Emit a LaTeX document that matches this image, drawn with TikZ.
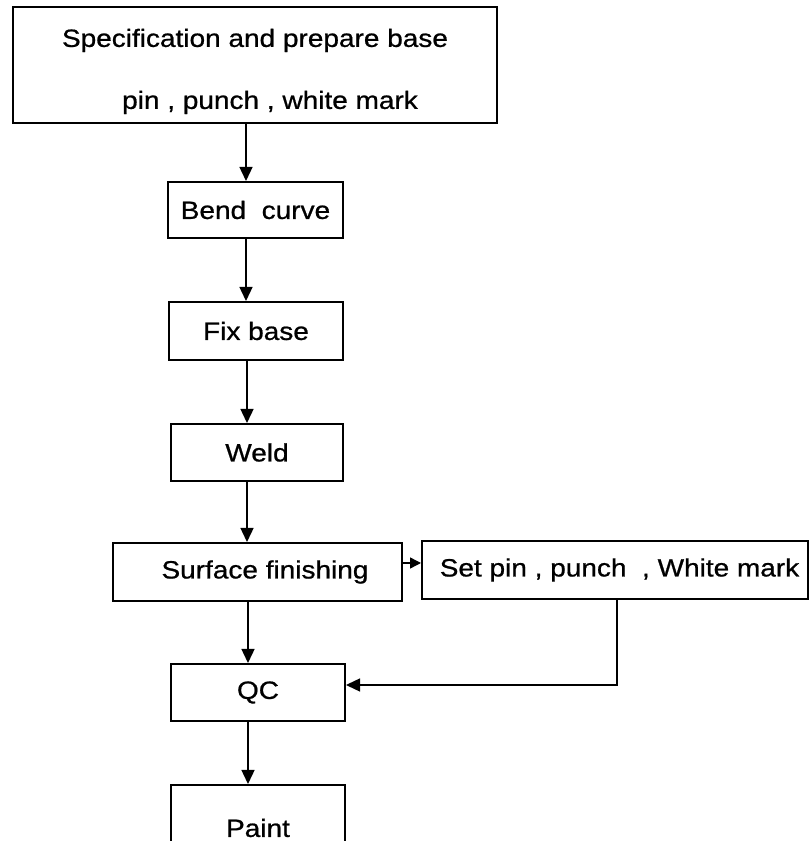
\documentclass[tikz,border=0pt]{standalone}
\usepackage{fontspec}
\setmainfont[FakeStretch=1.12,FakeBold=0.8]{Liberation Sans}
\usetikzlibrary{arrows.meta}
\begin{document}
\begin{tikzpicture}[x=1pt,y=1pt,
  box/.style={draw, line width=2pt, inner sep=0pt, font=\fontsize{25}{62}\selectfont},
  arr/.style={line width=1.4pt, -{Triangle[length=14pt,width=13pt]}},
  sarr/.style={line width=1.4pt, -{Triangle[length=11pt,width=11pt]}}
]
\useasboundingbox (0,0) rectangle (811,841);
\clip (0,0) rectangle (811,841);
\node[box, minimum width=484, minimum height=116, align=center] (spec) at (255,776)
  {\rule{0pt}{31pt}Specification and prepare base\\\hspace*{30pt}pin , punch , white mark};
\node[box, minimum width=175, minimum height=56] (bend) at (255.5,631) {Bend\ \ curve};
\node[box, minimum width=174, minimum height=58] (fix) at (256,510) {Fix base};
\node[box, minimum width=172, minimum height=57] (weld) at (257,388.5) {Weld};
\node[box, minimum width=289, minimum height=58] (surf) at (257.5,269) {\hspace*{15pt}Surface finishing};
\node[box, minimum width=386, minimum height=58] (setpin) at (615,271) {\hspace*{9pt}Set pin , punch\ \ , White mark};
\node[box, minimum width=174, minimum height=57] (qc) at (258,148.5) {QC};
\node[box, minimum width=174, minimum height=86] (paint) at (258,13) {Paint};
\draw[arr] ([xshift=-9pt]spec.south) -- ([xshift=-9pt]spec.south |- bend.north);
\draw[arr] ([xshift=-9.5pt]bend.south) -- ([xshift=-9.5pt]bend.south |- fix.north);
\draw[arr] ([xshift=-9pt]fix.south) -- ([xshift=-9pt]fix.south |- weld.north);
\draw[arr] ([xshift=-10pt]weld.south) -- ([xshift=-10pt]weld.south |- surf.north);
\draw[arr] ([xshift=-9.5pt]surf.south) -- ([xshift=-9.5pt]surf.south |- qc.north);
\draw[arr] ([xshift=-10pt]qc.south) -- ([xshift=-10pt]qc.south |- paint.north);
\draw[sarr] ([yshift=9pt]surf.east) -- ([yshift=9pt]surf.east -| setpin.west);
\draw[arr] ([xshift=2pt]setpin.south) |- ([yshift=7.5pt]qc.east);
\end{tikzpicture}
\end{document}
